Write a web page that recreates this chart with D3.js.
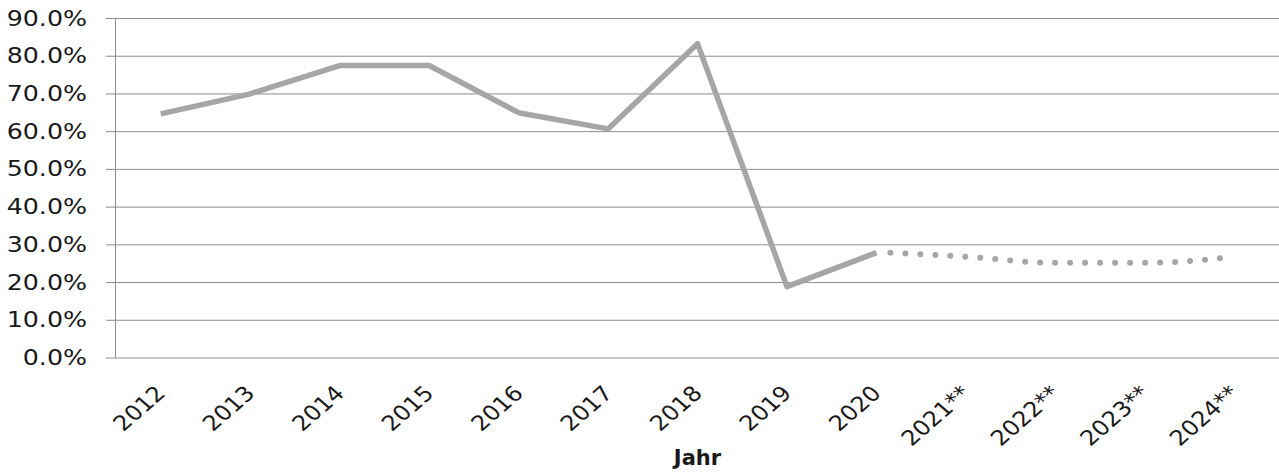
<!DOCTYPE html>
<html>
<head>
<meta charset="utf-8">
<script src="https://cdn.jsdelivr.net/npm/d3@7"></script>
<style>
  body { margin: 0; background: #fff; }
  svg text { font-family: "DejaVu Sans", "Open Sans", sans-serif; fill: #1a1a1a; }
</style>
</head>
<body>
<svg class="chart"></svg>
<script>
const years = ["2012", "2013", "2014", "2015", "2016", "2017", "2018", "2019", "2020", "2021**", "2022**", "2023**", "2024**"]
const actual = [64.6, 69.9, 77.4, 77.4, 64.9, 60.6, 83.2, 18.8, 27.8]
const forecastYears = ["2020", "2021**", "2022**", "2023**", "2024**"]
const forecast = [27.8, 26.7, 25.1, 25.1, 26.7]
const yTicks = [0, 10, 20, 30, 40, 50, 60, 70, 80, 90]

const width = 1279,
      height = 475,
      margin = { top: 18, right: 0, bottom: 118, left: 116 },
      stretch = 1.15   // the original is a bit wider than tall

const chart = d3.select(".chart")
    .attr("width", width)
    .attr("height", height)

const x = d3.scaleBand()
    .domain(years)
    .range([margin.left, width])

const y = d3.scaleLinear()
    .domain([0, 90])
    .range([height - margin.bottom + 0.5, margin.top])

// gridlines + y labels
const yAxis = chart.append("g")
    .attr("transform", `translate(${margin.left},0)`)
    .call(d3.axisLeft(y)
      .tickValues(yTicks)
      .tickSize(-(width - margin.left))
      .tickFormat(d => d.toFixed(1) + "%"))

yAxis.select(".domain").remove()
yAxis.selectAll(".tick line")
    .attr("x1", -10)
    .attr("stroke", "#8c8c8c")
yAxis.selectAll(".tick text")
    .attr("x", -29 / stretch)
    .attr("transform", `scale(${stretch},1)`)
    .style("font-size", "22px")

// y axis line
chart.append("line")
    .attr("x1", margin.left - 0.5).attr("x2", margin.left - 0.5)
    .attr("y1", y(90)).attr("y2", y(0))
    .attr("stroke", "#8c8c8c")

// x labels
chart.append("g")
    .selectAll("text")
    .data(years)
    .enter()
    .append("text")
      .attr("text-anchor", "end")
      .attr("transform", d => `translate(${x(d) + x.bandwidth() / 2 + 6},${y(0) + 37}) scale(${stretch},1) rotate(-45)`)
      .style("font-size", "21px")
      .text(d => d)

chart.append("text")
    .attr("x", (margin.left + width) / 2)
    .attr("y", 465)
    .attr("text-anchor", "middle")
    .style("font-size", "21px")
    .style("font-weight", "bold")
    .text("Jahr")

const cx = d => x(d) + x.bandwidth() / 2

chart.append("path")
    .datum(actual)
    .attr("fill", "none")
    .attr("stroke", "#a6a6a6")
    .attr("stroke-width", 5.5)
    .attr("stroke-linejoin", "round")
    .attr("d", d3.line()
      .x((d, i) => cx(years[i]))
      .y(d => y(d)))

chart.append("path")
    .datum(forecast)
    .attr("fill", "none")
    .attr("stroke", "#a6a6a6")
    .attr("stroke-width", 6)
    .attr("stroke-linecap", "round")
    .attr("stroke-dasharray", "0 15")
    .attr("d", d3.line()
      .curve(d3.curveMonotoneX)
      .x((d, i) => cx(forecastYears[i]) + (i === 0 ? 14 : 0))
      .y(d => y(d)))
</script>
</body>
</html>
